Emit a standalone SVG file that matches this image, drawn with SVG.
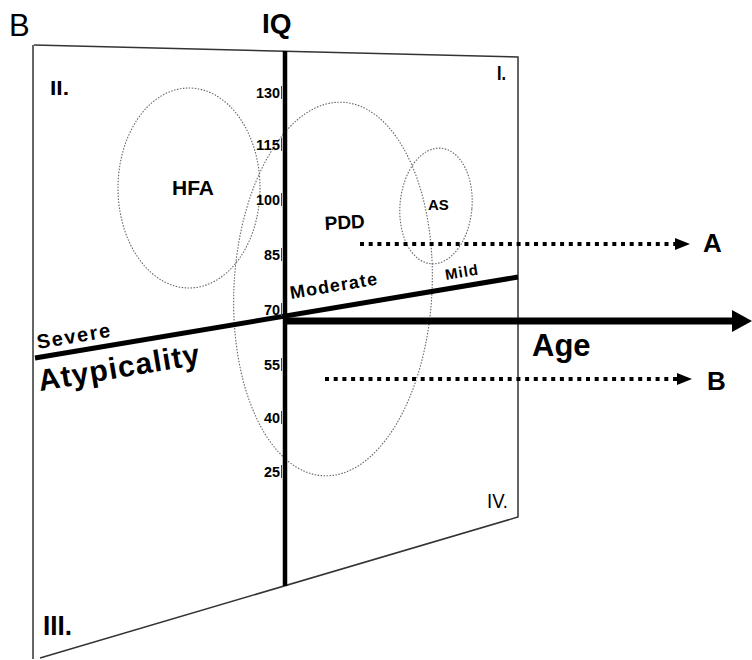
<svg xmlns="http://www.w3.org/2000/svg" width="752" height="660" viewBox="0 0 752 660">
<style>
.plane{fill:none;stroke:#333;stroke-width:1.5}
.ell{fill:none;stroke:#666;stroke-width:1.1;stroke-dasharray:1.5 1.5}
.b{font-family:"Liberation Sans",Arial,sans-serif;font-weight:bold;fill:#000}
.r{font-family:"Liberation Sans",Arial,sans-serif;fill:#000}
.num{font-family:"Liberation Sans",Arial,sans-serif;font-weight:bold;font-size:15.5px;text-anchor:end;fill:#000}
.tick{stroke:#444;stroke-width:1}
.dot{fill:none;stroke:#000;stroke-width:4;stroke-dasharray:4 4.7}
</style>
<defs>
<marker id="tri" viewBox="0 0 15 12" refX="0" refY="6" markerWidth="15" markerHeight="12" markerUnits="userSpaceOnUse" orient="auto">
<path d="M0,0 L15,6 L0,12 Z" fill="#000"/>
</marker>
<marker id="big" viewBox="0 0 20 22" refX="1" refY="11" markerWidth="20" markerHeight="22" markerUnits="userSpaceOnUse" orient="auto">
<path d="M0,0 L20,11 L0,22 Z" fill="#000"/>
</marker>
</defs>
<rect width="752" height="660" fill="#fff"/>
<text class="r" x="9" y="36" font-size="31">B</text>
<g id="plane">
<path class="plane" d="M34,45 L518,57 L518,517 L40,658 M33,45 L33,659"/>
</g>
<g id="quadrants">
<text class="b" x="50" y="95" font-size="21" textLength="19" lengthAdjust="spacingAndGlyphs">II.</text>
<text class="b" x="497" y="80" font-size="21" textLength="9" lengthAdjust="spacingAndGlyphs">I.</text>
<text class="b" x="43" y="635" font-size="27" textLength="29" lengthAdjust="spacingAndGlyphs">III.</text>
<text class="r" x="487" y="508" font-size="20" textLength="21" lengthAdjust="spacingAndGlyphs">IV.</text>
</g>
<g id="ellipses">
<g id="hfa"><ellipse class="ell" cx="189" cy="188" rx="71" ry="100"/><text class="b" x="172" y="195" font-size="21">HFA</text></g>
<g id="pdd"><ellipse class="ell" cx="333" cy="289" rx="99" ry="187" transform="rotate(3 333 289)"/><text class="b" x="325" y="230" font-size="19" transform="rotate(-3 325 230)">PDD</text></g>
<g id="as"><ellipse class="ell" cx="436" cy="206" rx="36" ry="58" transform="rotate(5 436 206)"/><text class="b" x="428" y="210" font-size="15">AS</text></g>
</g>
<g id="connectors">
<line id="iq-axis" x1="285" y1="51" x2="285" y2="586" stroke="#000" stroke-width="4.5"/>
<line id="atyp-axis" x1="35" y1="358" x2="518" y2="277" stroke="#000" stroke-width="5"/>
<line id="age-axis" x1="285" y1="321" x2="733" y2="321" stroke="#000" stroke-width="7" marker-end="url(#big)"/>
<line id="arrow-a" class="dot" x1="360" y1="244" x2="675" y2="244" marker-end="url(#tri)"/>
<line id="arrow-b" class="dot" x1="325" y1="379" x2="677" y2="379" marker-end="url(#tri)"/>
</g>
<g id="labels">
<text class="b" x="262" y="33" font-size="28">IQ</text>
<text class="b" x="532" y="356" font-size="31">Age</text>
<text class="b" x="703" y="252" font-size="26">A</text>
<text class="b" x="707" y="390" font-size="26">B</text>
<text class="b" x="40" y="391" font-size="30" textLength="163" transform="rotate(-9.5 40 391)">Atypicality</text>
<text class="b" x="38" y="349" font-size="20" textLength="74" transform="rotate(-9.5 38 349)">Severe</text>
<text class="b" x="291" y="299" font-size="18" textLength="88" transform="rotate(-9.5 291 299)">Moderate</text>
<text class="b" x="446" y="280" font-size="15" textLength="33" transform="rotate(-9.5 446 280)">Mild</text>
</g>
<g id="iq-scale">
<text class="num" x="280" y="98" textLength="24" lengthAdjust="spacingAndGlyphs">130</text>
<text class="num" x="280" y="150" textLength="24" lengthAdjust="spacingAndGlyphs">115</text>
<text class="num" x="280" y="205" textLength="24" lengthAdjust="spacingAndGlyphs">100</text>
<text class="num" x="280" y="260" textLength="16" lengthAdjust="spacingAndGlyphs">85</text>
<text class="num" x="280" y="315" textLength="16" lengthAdjust="spacingAndGlyphs">70</text>
<text class="num" x="280" y="370" textLength="16" lengthAdjust="spacingAndGlyphs">55</text>
<text class="num" x="280" y="423" textLength="16" lengthAdjust="spacingAndGlyphs">40</text>
<text class="num" x="280" y="477" textLength="16" lengthAdjust="spacingAndGlyphs">25</text>
<path class="tick" d="M281.5,86V99M281.5,138V151M281.5,193V206M281.5,248V261M281.5,303V316M281.5,358V371M281.5,411V424M281.5,465V478"/>
</g>
</svg>
